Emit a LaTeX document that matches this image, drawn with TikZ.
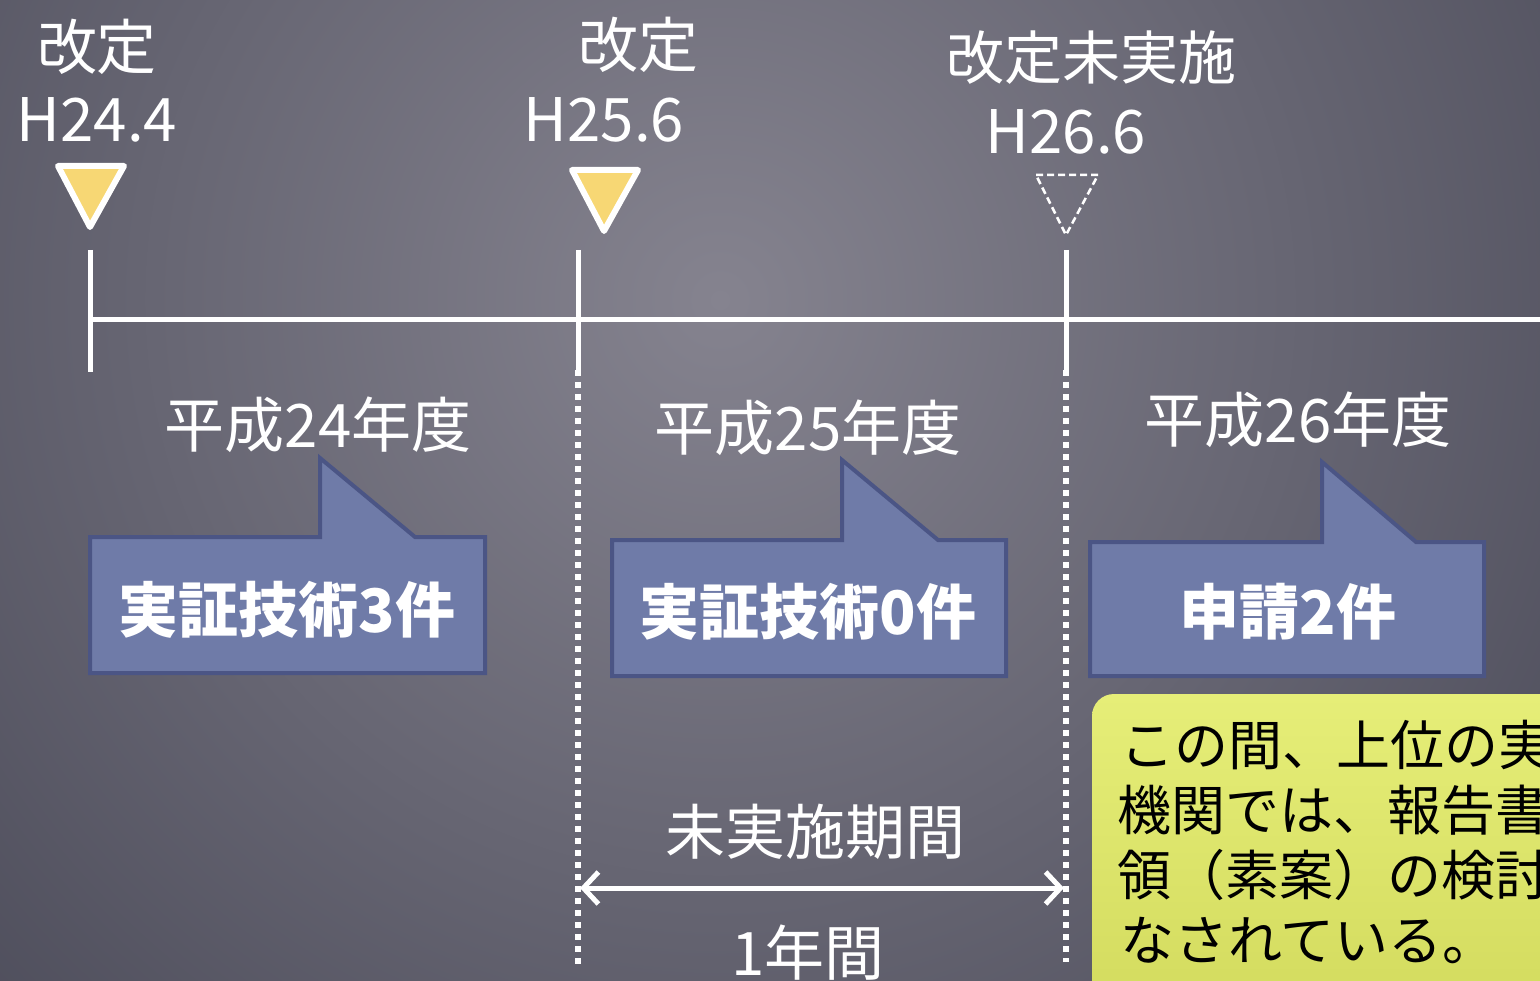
\documentclass[tikz,border=0pt]{standalone}
\usepackage{fontspec}
\setmainfont{Noto Sans CJK JP}
\usetikzlibrary{arrows.meta}
\definecolor{bgin}{HTML}{85838F}
\definecolor{bgout}{HTML}{484856}
\definecolor{triyel}{HTML}{F7D774}
\definecolor{boxfill}{HTML}{6F7BA8}
\definecolor{boxline}{HTML}{4B5585}
\definecolor{notetop}{HTML}{E6EE78}
\definecolor{notebot}{HTML}{D0D85A}
\begin{document}
\begin{tikzpicture}[x=1pt,y=-1pt,
  lbl/.style={text=white,font=\fontsize{60}{60}\selectfont,inner sep=0pt,anchor=center},
  boxtxt/.style={text=white,font=\bfseries\fontsize{60}{60}\selectfont,inner sep=0pt,anchor=center},
  notetxt/.style={text=black,font=\fontsize{54}{54}\selectfont,inner sep=0pt,anchor=west},
  axis/.style={white,line width=5pt},
  dotline/.style={white,line width=6pt,dash pattern=on 6pt off 6pt},
  tri/.style={draw=white,line width=6pt,line join=round,fill=triyel},
  dtri/.style={draw=white,line width=2.5pt,dash pattern=on 7pt off 4pt},
  callout/.style={draw=boxline,line width=4pt,fill=boxfill,line join=miter},
  span/.style={white,line width=5pt,{Straight Barb[length=15pt,width=32pt,line width=5pt]}-{Straight Barb[length=15pt,width=32pt,line width=5pt]}}
]
\useasboundingbox (0,0) rectangle (1540,981);
\clip (0,0) rectangle (1540,981);
\shade[inner color=bgin,outer color=bgout] (720,300) circle (1150);
% timeline
\coordinate (tL) at (90,320);
\coordinate (tR) at (1540,320);
\draw[axis] (tL) -- (tR);
% ticks
\coordinate (k1a) at (90,250); \coordinate (k1b) at (90,372);
\coordinate (k2a) at (578,250); \coordinate (k2b) at (578,370); \coordinate (k2c) at (578,966);
\coordinate (k3a) at (1066,250); \coordinate (k3b) at (1066,370); \coordinate (k3c) at (1066,962);
\draw[axis] (k1a) -- (k1b);
\draw[axis] (k2a) -- (k2b);
\draw[axis] (k3a) -- (k3b);
\draw[dotline] (k2b) -- (k2c);
\draw[dotline] (k3b) -- (k3c);
% triangles
\draw[tri] (58,166) -- (124,166) -- (90,227) -- cycle;
\draw[tri] (572,170) -- (638,170) -- (604,231) -- cycle;
\draw[dtri] (1036,175) -- (1098,175) -- (1066,235) -- cycle;
% top labels
\node[lbl] (r1) at (97,47) {改定};
\node[lbl] (d1) at (97,120) {H24.4};
\node[lbl] (r2) at (638,45) {改定};
\node[lbl] (d2) at (604,120) {H25.6};
\node[lbl,font=\fontsize{58}{58}\selectfont] (r3) at (1091,58) {改定未実施};
\node[lbl] (d3) at (1066,132) {H26.6};
% year labels
\node[lbl] (y1) at (318,425) {平成24年度};
\node[lbl] (y2) at (808,428) {平成25年度};
\node[lbl] (y3) at (1298,420) {平成26年度};
% callouts
\draw[callout] (90,537) -- (320,537) -- (320,458) -- (415,537) -- (485,537) -- (485,673) -- (90,673) -- cycle;
\draw[callout] (612,540) -- (842,540) -- (842,460) -- (938,540) -- (1006,540) -- (1006,676) -- (612,676) -- cycle;
\draw[callout] (1090,542) -- (1322,542) -- (1322,462) -- (1416,542) -- (1484,542) -- (1484,676) -- (1090,676) -- cycle;
\node[boxtxt] (b1) at (287,610) {実証技術3件};
\node[boxtxt] (b2) at (808,612) {実証技術0件};
\node[boxtxt] (b3) at (1288,612) {申請2件};
% span arrow
\coordinate (sL) at (580,888);
\coordinate (sR) at (1064,888);
\draw[span] (sL) -- (sR);
\node[lbl] (s1) at (815,832) {未実施期間};
\node[lbl] (s2) at (808,953) {1年間};
% note
\shade[top color=notetop,bottom color=notebot,rounded corners=22pt] (1092,694) rectangle (1620,1060);
\node[notetxt] (n1) at (1120,745) {この間、上位の実};
\node[notetxt] (n2) at (1117,810) {機関では、報告書};
\node[notetxt] (n3) at (1117,875) {領（素案）の検討};
\node[notetxt] (n4) at (1120,940) {なされている。};
\end{tikzpicture}
\end{document}
